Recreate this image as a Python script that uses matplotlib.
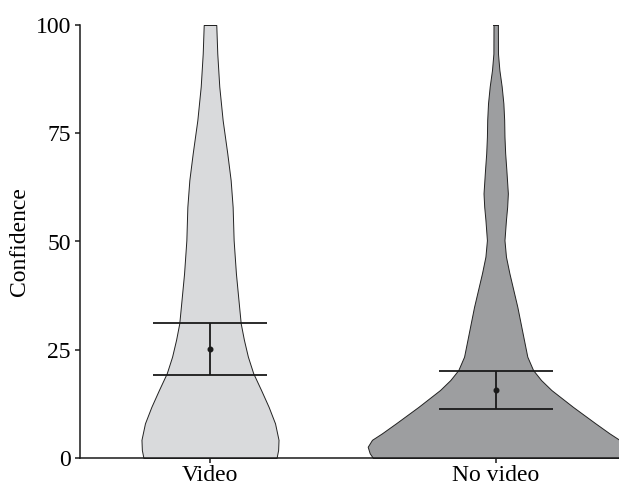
import numpy as np
import matplotlib
matplotlib.use("Agg")
import matplotlib.pyplot as plt

# groups and summary stats (mean with error bar limits)
groups = ["Video", "No video"]
means = [25.2, 15.8]
err_low = [19.2, 11.3]
err_high = [31.2, 20.1]
fills = ["#d9dadc", "#9d9ea0"]

# violin outlines: confidence levels and relative density (half-width)
video_levels = [0, 1.85, 4.2, 8.0, 11.8, 15.7, 19.6, 23.4, 27.3, 31.1, 34.9, 42.6,
                50.3, 58, 64.2, 70.4, 78, 85.8, 93.4, 100]
video_density = [66.7, 68.3, 68.7, 65.2, 58.8, 51.2, 43.3, 38, 34, 30.8, 29.2, 26,
                 23.7, 22.7, 20.7, 17.3, 12.7, 9.3, 7.3, 6.3]
novideo_levels = [0, 1.1, 2.6, 4.2, 5.7, 8.0, 11.8, 15.7, 18, 20.3, 23.4, 27.3,
                  31.1, 34.9, 38.8, 42.7, 46.5, 50.3, 55, 58, 61.1, 66.5, 70.4,
                  74.2, 78.1, 81.9, 85.8, 89.6, 93.4, 100]
novideo_density = [123, 126.3, 128.3, 124, 114, 100, 77.5, 55.8, 45.5, 37.5, 31.7,
                   28.3, 25, 21.7, 17.7, 13.7, 10.3, 8.8, 10.3, 11.5, 12.2, 10.7,
                   9.5, 8.8, 8.5, 7.7, 6, 3.7, 2.3, 2.2]

profiles = [(video_levels, video_density), (novideo_levels, novideo_density)]

plt.rcParams["font.family"] = ["Liberation Serif", "DejaVu Serif"]
plt.rcParams["font.size"] = 17

fig = plt.figure(figsize=(6.19, 4.86), dpi=100)
ax = fig.add_axes([80 / 619, 1 - 458 / 486, 1 - 80 / 619, (458 - 25) / 486])

max_half = 0.448  # widest violin half-width in category units
dmax = max(max(d) for _, d in profiles)
for i, (lv, dens) in enumerate(profiles):
    y = np.array(lv, dtype=float)
    half = np.array(dens, dtype=float) / dmax * max_half
    ax.fill_betweenx(y, i - half, i + half, facecolor=fills[i],
                     edgecolor="#222222", linewidth=0.7, zorder=1)
    # flat top
    ax.plot([i - half[-1], i + half[-1]], [y[-1], y[-1]], color="#222222",
            lw=0.7, zorder=1)

x = np.arange(len(groups))
ax.vlines(x, err_low, err_high, color="#1a1a1a", lw=1.3, zorder=3)
ax.hlines(err_low + err_high, list(x - 0.2) * 2, list(x + 0.2) * 2,
          color="#1a1a1a", lw=1.3, zorder=3)
ax.plot(x, means, "o", color="#1a1a1a", ms=3.3, zorder=4)

ax.set_xlim(-0.455, 1.4316)
ax.set_ylim(0, 100)
ax.set_yticks([0, 25, 50, 75, 100])
ax.set_xticks(x)
ax.set_xticklabels(groups)
ax.set_ylabel("Confidence", labelpad=4)

for s in ("top", "right"):
    ax.spines[s].set_visible(False)
for s in ("left", "bottom"):
    ax.spines[s].set_linewidth(1.1)
    ax.spines[s].set_color("#1a1a1a")
ax.tick_params(direction="out", length=3.5, width=1.1, color="#1a1a1a", pad=3)
ax.tick_params(axis="x", pad=1.5)

fig.savefig("out.png", dpi=100)
